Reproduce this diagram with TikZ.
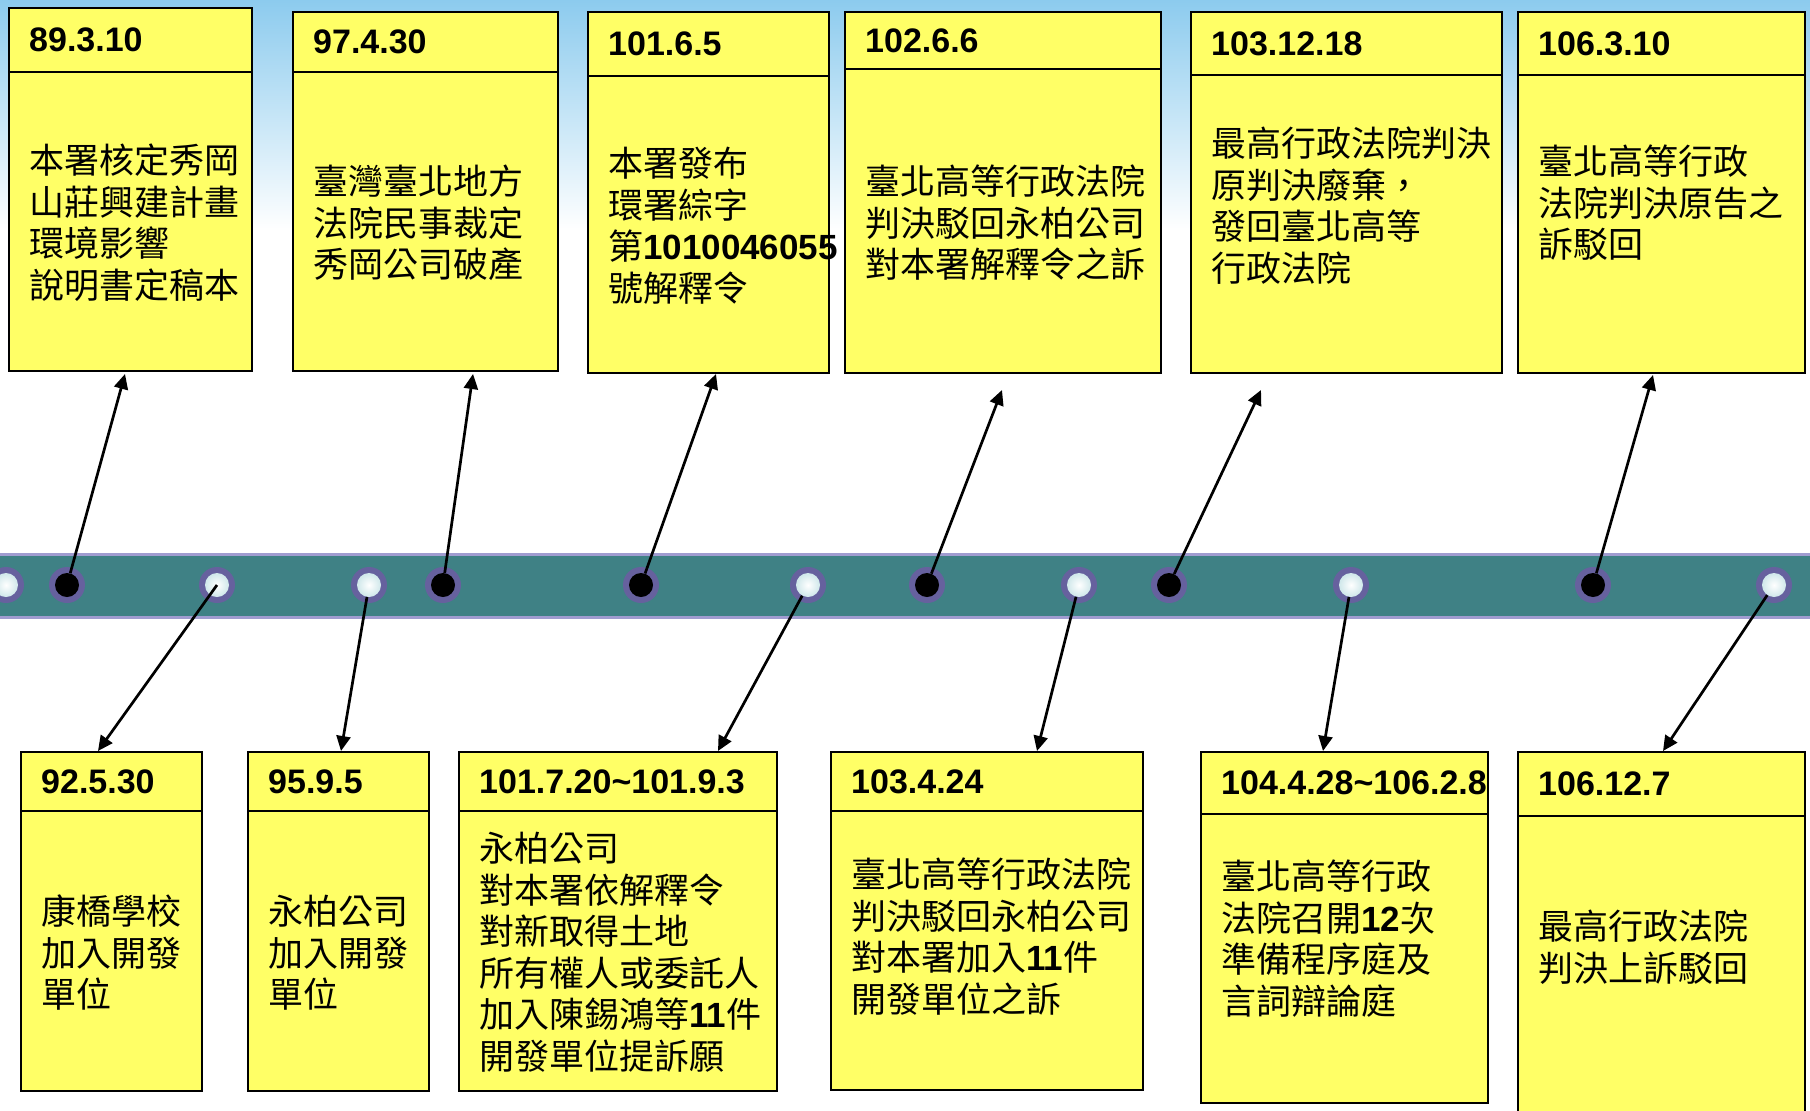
\documentclass[tikz,border=0pt]{standalone}
\usepackage{fontspec}
\setmainfont{Liberation Sans}
\newfontfamily\cjk{Noto Sans CJK TC}
\usetikzlibrary{arrows.meta,calc}
\definecolor{evyellow}{HTML}{FFFF66}
\definecolor{bandfill}{HTML}{3F8185}
\definecolor{bandedge}{HTML}{A09CD0}
\definecolor{ringcol}{HTML}{66619E}
\definecolor{skyblue}{HTML}{8CCBEE}
\definecolor{dotshade}{HTML}{CFE7EA}
\newcommand{\num}[1]{{\rmfamily\bfseries #1}}
% name, x1, y1, x2, y2, header y, date, body top y, body
\newcommand{\tlbox}[9]{%
  \node[evbox,minimum width={#4-#2},minimum height={#5-#3}] (#1) at (#2,#3) {};
  \draw[hdrline] (#2,#6) -- (#4,#6);
  \node[datetext] (#1-date) at ({#2+20},{(#3+#6)/2}) {#7};
  \node[bodytext] (#1-body) at ({#2+20},#8) {#9};
}
\begin{document}
\begin{tikzpicture}[x=1pt,y=-1pt,
  evbox/.style={draw=black,line width=2pt,fill=evyellow,anchor=north west,inner sep=0pt,outer sep=0pt},
  hdrline/.style={draw=black,line width=2pt},
  datetext/.style={anchor=west,inner sep=0pt,font=\fontsize{34}{40}\selectfont\bfseries},
  bodytext/.style={anchor=north west,align=left,inner sep=0pt,font=\fontsize{35}{41.5}\selectfont\cjk},
  ringbase/.style={circle,fill=ringcol,minimum size=36pt,inner sep=0pt,outer sep=0pt},
  blackdot/.style={circle,fill=black,minimum size=24pt,inner sep=0pt},
  whitedot/.style={circle,minimum size=24pt,inner sep=0pt,inner color=white,outer color=dotshade},
  arr/.style={-{Triangle[length=15pt,width=14pt]},line width=2.7pt,black}
]
\useasboundingbox (0,0) rectangle (1810,1111);
\clip (0,0) rectangle (1810,1111);
% background
\fill[white] (0,0) rectangle (1810,1111);
\shade[top color=skyblue,bottom color=white] (0,0) rectangle (1810,230);
% band
\fill[bandfill] (0,555) rectangle (1810,616);
\draw[bandedge,line width=3pt] (0,554) -- (1810,554);
\draw[bandedge,line width=3pt] (0,617) -- (1810,617);
% top boxes
\tlbox{t1}{9}{8}{252}{371}{72}{89.3.10}{144}{本署核定秀岡\\山莊興建計畫\\環境影響\\說明書定稿本}
\tlbox{t2}{293}{12}{558}{371}{72}{97.4.30}{165}{臺灣臺北地方\\法院民事裁定\\秀岡公司破產}
\tlbox{t3}{588}{12}{829}{373}{76}{101.6.5}{147}{本署發布\\環署綜字\\第\num{1010046055}\\號解釋令}
\tlbox{t4}{845}{12}{1161}{373}{69}{102.6.6}{165}{臺北高等行政法院\\判決駁回永柏公司\\對本署解釋令之訴}
\tlbox{t5}{1191}{12}{1502}{373}{75}{103.12.18}{127}{最高行政法院判決\\原判決廢棄，\\發回臺北高等\\行政法院}
\tlbox{t6}{1518}{12}{1805}{373}{75}{106.3.10}{145}{臺北高等行政\\法院判決原告之\\訴駁回}
% bottom boxes
\tlbox{b1}{21}{752}{202}{1091}{811}{92.5.30}{895}{康橋學校\\加入開發\\單位}
\tlbox{b2}{248}{752}{429}{1091}{811}{95.9.5}{895}{永柏公司\\加入開發\\單位}
\tlbox{b3}{459}{752}{777}{1091}{811}{101.7.20\textasciitilde101.9.3}{832}{永柏公司\\對本署依解釋令\\對新取得土地\\所有權人或委託人\\加入陳錫鴻等\num{11}件\\開發單位提訴願}
\tlbox{b4}{831}{752}{1143}{1090}{811}{103.4.24}{858}{\fontsize{35}{39}\selectfont 臺北高等行政法院\\判決駁回永柏公司\\對本署加入\num{11}件\\開發單位之訴}
\tlbox{b5}{1201}{752}{1488}{1103}{814}{104.4.28\textasciitilde106.2.8}{860}{臺北高等行政\\法院召開\num{12}次\\準備程序庭及\\言詞辯論庭}
\tlbox{b6}{1518}{752}{1805}{1130}{816}{106.12.7}{910}{最高行政法院\\判決上訴駁回}
% dots: purple rings
\foreach \i/\x in {1/6,2/67,3/217,4/369,5/443,6/641,7/808,8/927,9/1079,10/1169,11/1351,12/1593,13/1774}
  \node[ringbase] (d\i) at (\x,585) {};
% dot centres
\node[whitedot] (c1) at (d1) {};
\node[blackdot] (c2) at (d2) {};
\node[whitedot] (c3) at (d3) {};
\node[whitedot] (c4) at (d4) {};
\node[blackdot] (c5) at (d5) {};
\node[blackdot] (c6) at (d6) {};
\node[whitedot] (c7) at (d7) {};
\node[blackdot] (c8) at (d8) {};
\node[whitedot] (c9) at (d9) {};
\node[blackdot] (c10) at (d10) {};
\node[whitedot] (c11) at (d11) {};
\node[blackdot] (c12) at (d12) {};
\node[whitedot] (c13) at (d13) {};
% arrow tips
\coordinate (p1) at (125,374);
\coordinate (p2) at (473,374);
\coordinate (p3) at (716,374);
\coordinate (p4) at (1002,390);
\coordinate (p5) at (1261,390);
\coordinate (p6) at (1653,375);
\coordinate (q1) at (98,751);
\coordinate (q2) at (341,751);
\coordinate (q3) at (718,751);
\coordinate (q4) at (1037,751);
\coordinate (q5) at (1323,751);
\coordinate (q6) at (1663,751);
% connectors
\draw[arr] (c2) -- (p1);
\draw[arr] (c5) -- (p2);
\draw[arr] (c6) -- (p3);
\draw[arr] (c8) -- (p4);
\draw[arr] (c10) -- (p5);
\draw[arr] (c12) -- (p6);
\draw[arr] (c3.center) -- (q1);
\draw[arr] (c4) -- (q2);
\draw[arr] (c7) -- (q3);
\draw[arr] (c9) -- (q4);
\draw[arr] (c11) -- (q5);
\draw[arr] (c13) -- (q6);
\end{tikzpicture}
\end{document}
